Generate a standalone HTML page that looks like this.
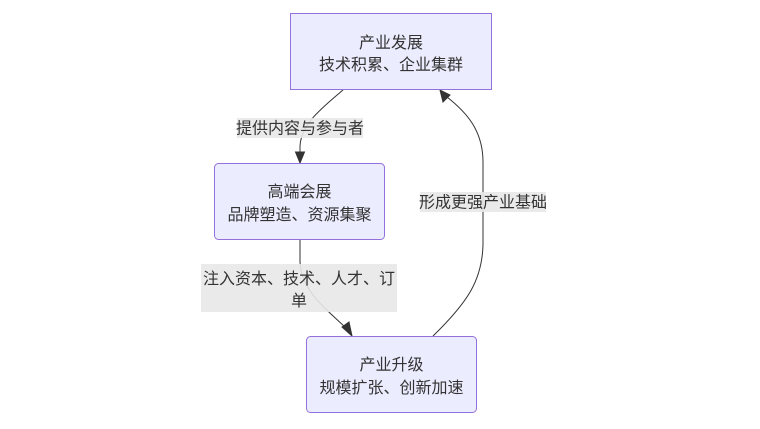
<!DOCTYPE html>
<html>
<head>
<meta charset="utf-8">
<style>
html,body{margin:0;padding:0;background:#fff;}
body{width:760px;height:429px;overflow:hidden;}
svg{display:block;}
text{font-family:"Liberation Sans","Noto Sans CJK SC","WenQuanYi Zen Hei",sans-serif;font-size:16px;fill:#333;}
</style>
</head>
<body>
<svg width="760" height="429" viewBox="0 0 760 429" xmlns="http://www.w3.org/2000/svg">
  <!-- edges -->
  <g fill="none" stroke="#333" stroke-width="1">
    <path d="M343,90 C322,108 301,124 300,146 L300,154"/>
    <path d="M300,240 L300,262 C301,290 325,308 346,328"/>
    <path d="M433,336 C468,302 482,280 483,245 L483,162 C483,130 466,112 447,97"/>
  </g>
  <!-- arrowheads -->
  <g fill="#333" stroke="#333" stroke-width="1">
    <polygon points="295.5,152 304.5,152 300,163"/>
    <polygon points="342,327 349,322 352,336"/>
    <polygon points="443,102 450,95 440,90"/>
  </g>
  <!-- edge labels -->
  <rect x="237" y="118" width="126" height="20" fill="#e8e8e8" fill-opacity="0.9"/>
  <text x="300" y="133.5" text-anchor="middle">提供内容与参与者</text>

  <rect x="201" y="264" width="196" height="48" fill="#e8e8e8" fill-opacity="0.9"/>
  <text x="299" y="284" text-anchor="middle">注入资本、技术、人才、订</text>
  <text x="299" y="306" text-anchor="middle">单</text>

  <rect x="420" y="192" width="126" height="20" fill="#e8e8e8" fill-opacity="0.9"/>
  <text x="483" y="207.5" text-anchor="middle">形成更强产业基础</text>

  <!-- nodes -->
  <rect x="290.5" y="13.5" width="201" height="76" fill="#ECECFF" stroke="#9370DB" stroke-width="1"/>
  <text x="391" y="48" text-anchor="middle">产业发展</text>
  <text x="391" y="70" text-anchor="middle">技术积累、企业集群</text>

  <rect x="214.5" y="163.5" width="170" height="76" rx="4" ry="4" fill="#ECECFF" stroke="#9370DB" stroke-width="1"/>
  <text x="299.5" y="197" text-anchor="middle">高端会展</text>
  <text x="299.5" y="220" text-anchor="middle">品牌塑造、资源集聚</text>

  <rect x="306.5" y="336.5" width="170" height="76" rx="4" ry="4" fill="#ECECFF" stroke="#9370DB" stroke-width="1"/>
  <text x="391.5" y="370" text-anchor="middle">产业升级</text>
  <text x="391.5" y="393" text-anchor="middle">规模扩张、创新加速</text>
</svg>
</body>
</html>
